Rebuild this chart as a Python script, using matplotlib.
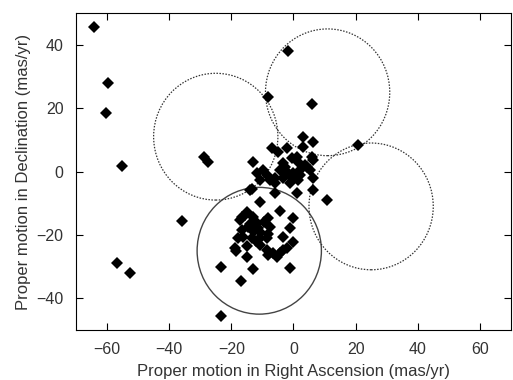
import matplotlib
matplotlib.use('Agg')
import matplotlib.pyplot as plt
from matplotlib.patches import Circle

plt.rcParams['font.family'] = ['Liberation Sans', 'DejaVu Sans']

# proper motions (mas/yr)
pm_ra = [-64.2, -59.7, -60.3, -55.2, -28.8, -27.5, -56.8, -52.6, -35.9, -23.3,
         -16.9, -13.0, -1.1, -23.3, -15.0, -18.5, -10.8, -4.3, -0.2, -1.1,
         -0.2, -8.2, -7.6, -3.4, -2.1, -4.3, -6.6, -8.5, -10.8, -8.5,
         -15.0, -17.9, -16.6, -16.6, -15.0, -13.0, -11.7, -14.6, -12.4, -10.8,
         -16.3, -13.4, -10.8, -14.0, -6.0, 1.1, 6.3, 10.8, 20.8, -13.0,
         -11.7, -10.8, -7.6, -6.9, -5.0, -2.1, -0.5, -3.4, -4.3, -2.1,
         -0.2, 2.1, 4.3, 6.3, 3.1, 6.3, 3.1, 5.3, -6.0, -3.4,
         -0.5, 1.4, -8.5, -9.8, -1.8, -8.2, 6.0, 6.0, 6.3, 1.1,
         -6.0, 2.1, 3.7, -2.7, -1.1, 1.4, -3.4, -15.6, -17.2, -11.4,
         -8.2, -18.8, -5.3, -8.2, -13.4, -14.0, -12.0, -9.5, -13.8]
pm_dec = [45.7, 28.0, 18.5, 1.8, 4.6, 3.1, -28.9, -32.0, -15.6, -30.1,
          -34.5, -30.7, -30.4, -45.6, -26.9, -25.0, -9.6, -12.4, -14.6, -17.7,
          -22.2, -14.6, -17.4, -20.6, -24.1, -25.7, -25.7, -24.7, -23.1, -20.9,
          -23.5, -20.9, -18.4, -14.3, -12.7, -14.3, -16.2, -17.5, -18.4, -19.0,
          -20.6, -20.9, -20.9, -5.8, -6.7, -6.7, -5.8, -8.9, 8.4, 3.1,
          -0.4, -2.6, -2.6, 7.5, 6.2, 7.5, 4.3, 2.7, 0.5, -0.1,
          -0.4, 0.5, 1.5, 3.7, 11.0, 9.4, 7.8, 0.5, -2.0, -2.0,
          -2.0, -2.6, -1.0, 0.5, 38.1, 23.6, 21.4, 4.6, -2.0, 4.6,
          -3.6, -1.0, 2.1, 1.5, -3.6, 3.1, -24.7, -13.7, -15.3, -17.8,
          -19.8, -24.1, -26.9, -26.3, -5.5, -16.5, -22.0, -16.0, -18.0]

# selection circles: the cluster one and its three rotated copies
circ_x = [-11, 25, 11, -25]
circ_y = [-25, -11, 25, 11]
circ_r = 20

fig = plt.figure(figsize=(5.13, 3.80), dpi=100)
ax = fig.add_axes([0.148, 0.1316, 0.848, 0.834])

for i, (cx, cy) in enumerate(zip(circ_x, circ_y)):
    if i == 0:
        ax.add_patch(Circle((cx, cy), circ_r, fill=False, ec='#444444', lw=1.0))
    else:
        ax.add_patch(Circle((cx, cy), circ_r, fill=False, ec='#333333', lw=0.9,
                            ls=(0, (1.2, 1.2))))

ax.plot(pm_ra, pm_dec, 'D', color='black', ms=6, mec='black', mew=0)

ax.set_xlim(-70, 70)
ax.set_ylim(-50, 50)
ax.set_xticks([-60, -40, -20, 0, 20, 40, 60])
ax.set_yticks([-40, -20, 0, 20, 40])
ax.tick_params(direction='in', top=True, right=True, length=5, width=0.8,
               pad=9, labelsize=11.5, labelcolor='#333333')
ax.set_xlabel('Proper motion in Right Ascension (mas/yr)', fontsize=12,
              color='#333333', labelpad=5)
ax.set_ylabel('Proper motion in Declination (mas/yr)', fontsize=12,
              color='#333333', labelpad=4)

plt.savefig('out.png', dpi=100)
